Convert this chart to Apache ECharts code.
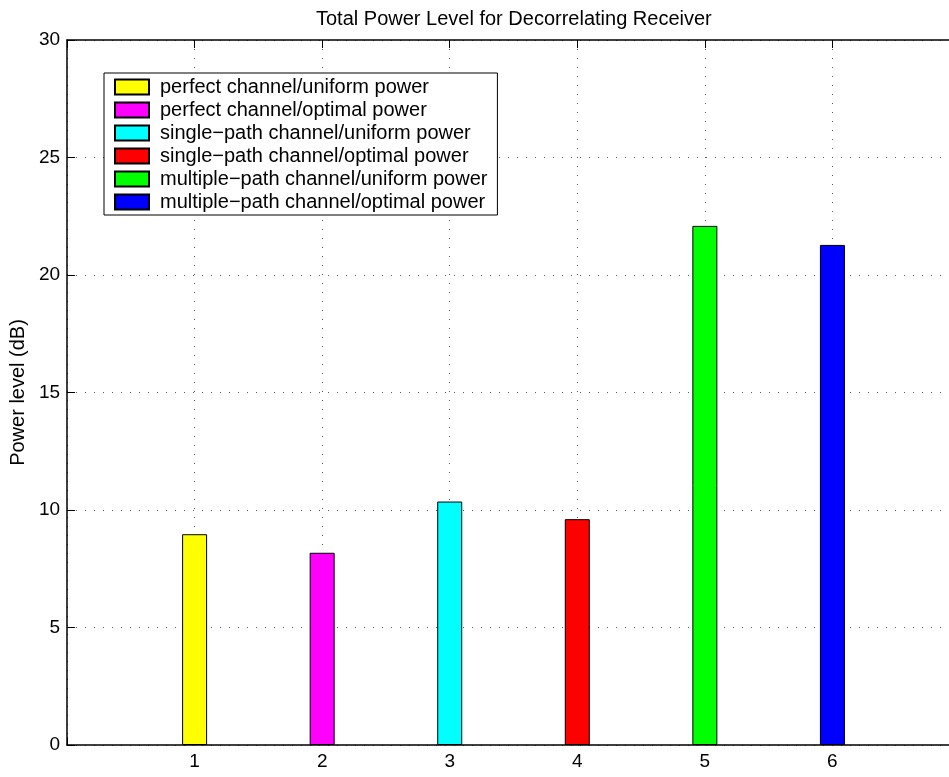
<!DOCTYPE html>
<html>
<head>
<meta charset="utf-8">
<script src="https://cdn.jsdelivr.net/npm/echarts@6/dist/echarts.min.js"></script>
<style>
html,body{margin:0;padding:0;background:#fff;}
#chart{width:949px;height:777px;}
</style>
</head>
<body>
<div id="chart"></div>
<script>
var positions = [1, 2, 3, 4, 5, 6];
var values = [8.97, 8.18, 10.36, 9.61, 22.09, 21.28];
var names = [
  'perfect channel/uniform power',
  'perfect channel/optimal power',
  'single\u2212path channel/uniform power',
  'single\u2212path channel/optimal power',
  'multiple\u2212path channel/uniform power',
  'multiple\u2212path channel/optimal power'
];
var colors = ['#ffff00', '#ff00ff', '#00ffff', '#ff0000', '#00ff00', '#0000ff'];
var xTicks = ['1', '2', '3', '4', '5', '6'];
var yTicks = [0, 5, 10, 15, 20, 25, 30];
// visible part of the x range (the axes box continues past the right edge of the picture)
var xMin = 0;
var xMax = 6.914;

var FONT = 'Liberation Sans, Arial, Helvetica, sans-serif';
var chart = echarts.init(document.getElementById('chart'), null, {renderer: 'canvas'});

var series = names.map(function (n, i) {
  return {
    name: n,
    type: 'bar',
    xAxisIndex: 0,
    yAxisIndex: 0,
    barWidth: 25,
    barGap: '-100%',
    data: [[positions[i], values[i]]],
    itemStyle: {color: colors[i], borderColor: '#000', borderWidth: 1},
    emphasis: {disabled: true},
    animation: false
  };
});

var gridStyle = {show: true, lineStyle: {color: '#555', width: 1, type: [1, 8]}};

chart.setOption({
  animation: false,
  backgroundColor: '#fff',
  title: {
    text: 'Total Power Level for Decorrelating Receiver',
    left: 311, top: 4,
    textStyle: {fontFamily: FONT, fontSize: 20, fontWeight: 'normal', color: '#000'}
  },
  legend: {
    orient: 'vertical',
    left: 104, top: 73,
    padding: [4, 10, 3, 10],
    itemWidth: 34, itemHeight: 15, itemGap: 3,
    icon: 'rect',
    borderColor: '#000', borderWidth: 1, backgroundColor: '#fff',
    textStyle: {fontFamily: FONT, fontSize: 20, color: '#000', lineHeight: 20, padding: [0, 0, 0, 6]},
    data: names,
    selectedMode: false
  },
  grid: {left: 64, top: 40, right: 0, height: 705, containLabel: false},
  xAxis: [{
    type: 'value', position: 'bottom', min: xMin, max: xMax, interval: 1,
    axisLine: {show: true, onZero: false, lineStyle: {color: '#000', width: 1.5}},
    axisTick: {show: true, inside: true, length: 8, lineStyle: {color: '#000'}},
    axisLabel: {
      margin: 7, fontFamily: FONT, fontSize: 19, color: '#000', showMaxLabel: false,
      formatter: function (v) { var i = positions.indexOf(v); return i >= 0 ? xTicks[i] : ''; }
    },
    splitLine: gridStyle
  }, {
    type: 'value', position: 'top', min: xMin, max: xMax, interval: 1,
    axisLine: {show: true, onZero: false, lineStyle: {color: '#000', width: 1.5}},
    axisTick: {show: true, inside: true, length: 8, lineStyle: {color: '#000'}},
    axisLabel: {show: false},
    splitLine: {show: false}
  }],
  yAxis: [{
    type: 'value', min: 0, max: 30, interval: 5,
    name: 'Power level (dB)', nameLocation: 'middle', nameGap: 31,
    nameTextStyle: {fontFamily: FONT, fontSize: 20, color: '#000'},
    axisLine: {show: true, onZero: false, lineStyle: {color: '#000', width: 1.5}},
    axisTick: {show: true, inside: true, length: 8, lineStyle: {color: '#000'}},
    axisLabel: {
      margin: 7, fontFamily: FONT, fontSize: 19, color: '#000',
      formatter: function (v) { return yTicks.indexOf(v) >= 0 ? String(v) : ''; }
    },
    splitLine: gridStyle
  }],
  series: series
});
</script>
</body>
</html>
